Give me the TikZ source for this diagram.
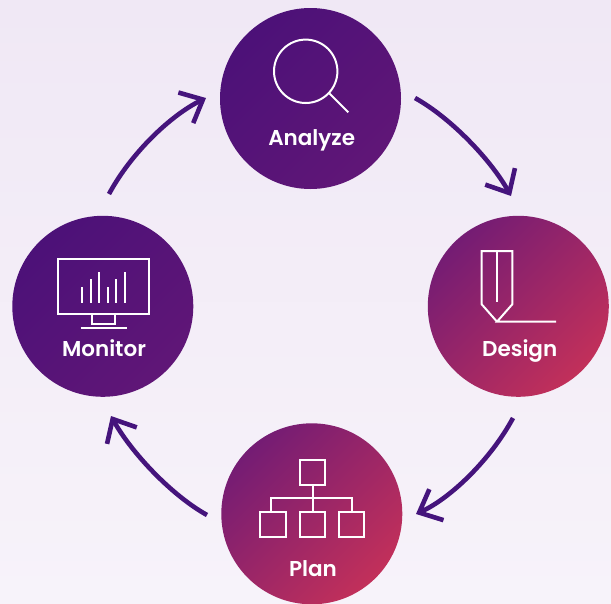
\documentclass[tikz,border=0pt]{standalone}
\usepackage{fontspec}
\setmainfont{Poppins}[UprightFont=* SemiBold]
\usetikzlibrary{arrows.meta}
\definecolor{arrowcol}{HTML}{45147C}
\definecolor{bgtop}{HTML}{F0E8F5}
\definecolor{bgbot}{HTML}{F7F3FA}
\definecolor{darkA}{HTML}{4C1178}
\definecolor{darkB}{HTML}{601677}
\definecolor{warmA}{HTML}{741C74}
\definecolor{warmB}{HTML}{C2305A}
\pgfdeclareverticalshading{darkshade}{100bp}{color(0bp)=(darkB); color(25bp)=(darkB); color(75bp)=(darkA); color(100bp)=(darkA)}
\pgfdeclareverticalshading{warmshade}{100bp}{color(0bp)=(warmB); color(25bp)=(warmB); color(75bp)=(warmA); color(100bp)=(warmA)}
\tikzset{
  phase/.style={circle,minimum size=181pt,inner sep=0pt,outer sep=0pt,shading angle=45},
  darkphase/.style={phase,shading=darkshade},
  warmphase/.style={phase,shading=warmshade},
  lab/.style={anchor=base,text=white,inner sep=0pt,font=\fontsize{21.5}{24}\selectfont},
  icon/.style={draw=white,line width=2pt,line join=miter,fill=none},
  flow/.style={draw=arrowcol,line width=4.6pt,-{Straight Barb[length=19pt,width=34pt,line width=4.6pt]}}
}
\begin{document}
\begin{tikzpicture}[x=1pt,y=-1pt]
\useasboundingbox (0,0) rectangle (611,603);
\fill[top color=bgtop,bottom color=bgbot] (0,0) rectangle (611,603);
% circles
\node[darkphase] (analyze) at (310.5,98.5) {};
\node[warmphase] (design) at (518.3,306.3) {};
\node[warmphase] (plan) at (311.8,513.8) {};
\node[darkphase] (monitor) at (102.8,306.3) {};
% labels
\node[lab] (analyzelab) at (311.7,145.7) {Analyze};
\node[lab] (designlab) at (519.7,356) {Design};
\node[lab] (planlab) at (313,576) {Plan};
\node[lab] (monitorlab) at (104,356.7) {Monitor};
% arrows
\coordinate (a1) at (415,98);
\coordinate (a2) at (511,196);
\coordinate (b1) at (513,418);
\coordinate (b2) at (416,514);
\coordinate (c1) at (207,515);
\coordinate (c2) at (111,416);
\coordinate (d1) at (109,194);
\coordinate (d2) at (206,98);
\path[flow] (a1) .. controls (451,118) and (491,160) .. (a2);
\path[flow] (b1) .. controls (491,459) and (451,498) .. (b2);
\path[flow] (c1) .. controls (171,495) and (131,452) .. (c2);
\path[flow] (d1) .. controls (131,153) and (171,115) .. (d2);
% magnifier
\draw[icon] (305.7,71.3) circle (31.7);
\draw[icon] (329.3,93.3) -- (348.3,112.3);
% pen
\draw[icon] (497,321.7) -- (481.7,304.3) -- (481.7,251) -- (512.3,251) -- (512.3,304.3) -- (497,321.7) -- (556,321.7);
\draw[icon] (497,251) -- (497,301.7);
% hierarchy
\draw[icon] (300,460.3) rectangle (325.3,485.3);
\draw[icon] (260.3,511.7) rectangle (286,537);
\draw[icon] (300,511.7) rectangle (325.3,537);
\draw[icon] (339,511.7) rectangle (364.3,537);
\draw[icon] (313,485.3) -- (313,511.7);
\draw[icon] (271.3,511.7) -- (271.3,497.7) -- (352.3,497.7) -- (352.3,511.7);
% monitor
\draw[icon] (58.3,258.7) rectangle (149,314.3);
\draw[icon] (92.3,314.3) -- (92.3,323.7) -- (115,323.7) -- (115,314.3);
\draw[icon] (80.7,327.7) -- (126.7,327.7);
\draw[icon] (82,287.3) -- (82,303);
\draw[icon] (90.7,279.3) -- (90.7,303);
\draw[icon] (99.3,272) -- (99.3,303);
\draw[icon] (107.7,287.3) -- (107.7,303);
\draw[icon] (116.3,279.3) -- (116.3,303);
\draw[icon] (125,272) -- (125,303);
\end{tikzpicture}
\end{document}
